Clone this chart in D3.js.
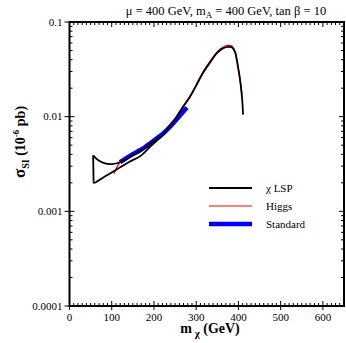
<!DOCTYPE html>
<html>
<head>
<meta charset="utf-8">
<script src="https://cdn.jsdelivr.net/npm/d3@7"></script>
<style>
  body { margin: 0; background: #fff; }
  svg text { font-family: "Liberation Serif", "DejaVu Serif", serif; fill: #000; }
</style>
</head>
<body>
<div id="chart"></div>
<script>
// data (m_chi in GeV, sigma_SI in 1e-6 pb)
var lspUpper = [[219, 0.0063], [195, 0.0053], [170, 0.0044], [145, 0.0038], [119.6, 0.0033],
                [100, 0.00316], [84, 0.00321], [67.5, 0.00348], [56, 0.0039]];
var lspLower = [[57, 0.00205], [58, 0.00200], [80, 0.00228], [108, 0.0027], [140, 0.0033],
                [170, 0.0039], [195, 0.0050], [221, 0.0064]];
var lspMain = [[233, 0.0076], [250, 0.0094], [269, 0.0127], [285, 0.0161], [300, 0.0213],
               [316, 0.0289], [333, 0.0375], [349, 0.0469], [361, 0.052], [375, 0.0547],
               [385, 0.0538], [392, 0.048], [396, 0.040], [399, 0.0333], [403, 0.026],
               [406, 0.0205], [409, 0.015], [411, 0.0105]];
var higgs = [[105, 0.0025], [112, 0.0029], [119.6, 0.0033], [145, 0.0038], [170, 0.0044],
             [195, 0.0053], [221, 0.0064], [233, 0.0077], [250, 0.0096], [269, 0.0129],
             [285, 0.0164], [300, 0.0217], [316, 0.0295], [333, 0.0385], [349, 0.048],
             [361, 0.0535], [375, 0.0565], [385, 0.0555], [392, 0.049], [396, 0.041],
             [399, 0.034], [403, 0.0265], [406, 0.021], [408, 0.017]];
var standard = [[119.6, 0.0033], [145, 0.0039], [170, 0.0045], [195, 0.0054], [221, 0.0066],
                [240, 0.0080], [260, 0.0101], [278, 0.0125]];
var xTicks = [0, 100, 200, 300, 400, 500, 600];
var yTicks = [0.0001, 0.001, 0.01, 0.1];
var yTickLabels = ["0.0001", "0.001", "0.01", "0.1"];
var legendItems = [
  { name: "\u03c7 LSP", color: "#000", width: 1.8 },
  { name: "Higgs", color: "#ff0000", width: 1.2 },
  { name: "Standard", color: "#0000ff", width: 4.5 }
];

var W = 346, H = 343;
var margin = { top: 22, right: 2, bottom: 37, left: 69.5 };
var pw = W - margin.left - margin.right, ph = H - margin.top - margin.bottom;

var svg = d3.select('#chart').append('svg')
    .attr('width', W).attr('height', H);
var g = svg.append('g')
    .attr('transform', 'translate(' + margin.left + ',' + margin.top + ')');

var x = d3.scaleLinear().domain([0, 650]).range([0, pw]);
var y = d3.scaleLog().domain([0.0001, 0.1]).range([ph, 0]);

var line = d3.line()
    .x(function(d) { return x(d[0]); })
    .y(function(d) { return y(d[1]); })
    .curve(d3.curveCatmullRom.alpha(0.5));

// ticks: minor on x every 10, minor on y 2..9 per decade
var xMinor = d3.range(0, 651, 10).filter(function(v) { return v % 100 !== 0; });
var yMinor = [];
[0.0001, 0.001, 0.01].forEach(function(dec) {
  for (var k = 2; k <= 9; k++) yMinor.push(dec * k);
});

var ticks = g.append('g').attr('stroke', '#000').attr('stroke-width', 1);
// bottom
ticks.selectAll('.xb').data(xTicks).enter().append('line')
    .attr('x1', function(d) { return x(d); }).attr('x2', function(d) { return x(d); })
    .attr('y1', ph + 4).attr('y2', ph - 5);
ticks.selectAll('.xbm').data(xMinor).enter().append('line')
    .attr('x1', function(d) { return x(d); }).attr('x2', function(d) { return x(d); })
    .attr('y1', ph).attr('y2', ph - 3);
// top
ticks.selectAll('.xt').data(xTicks).enter().append('line')
    .attr('x1', function(d) { return x(d); }).attr('x2', function(d) { return x(d); })
    .attr('y1', 0).attr('y2', 5);
ticks.selectAll('.xtm').data(xMinor).enter().append('line')
    .attr('x1', function(d) { return x(d); }).attr('x2', function(d) { return x(d); })
    .attr('y1', 0).attr('y2', 3);
// left
ticks.selectAll('.yl').data(yTicks).enter().append('line')
    .attr('y1', function(d) { return y(d); }).attr('y2', function(d) { return y(d); })
    .attr('x1', -5).attr('x2', 5);
ticks.selectAll('.ylm').data(yMinor).enter().append('line')
    .attr('y1', function(d) { return y(d); }).attr('y2', function(d) { return y(d); })
    .attr('x1', 0).attr('x2', 3);
// right
ticks.selectAll('.yr').data(yTicks).enter().append('line')
    .attr('y1', function(d) { return y(d); }).attr('y2', function(d) { return y(d); })
    .attr('x1', pw - 5).attr('x2', pw);
ticks.selectAll('.yrm').data(yMinor).enter().append('line')
    .attr('y1', function(d) { return y(d); }).attr('y2', function(d) { return y(d); })
    .attr('x1', pw - 3).attr('x2', pw);

// tick labels
g.selectAll('.xl').data(xTicks).enter().append('text')
    .attr('x', function(d) { return x(d); }).attr('y', ph + 15)
    .attr('text-anchor', 'middle').style('font-size', '11px')
    .text(function(d) { return d; });
g.selectAll('.ylab').data(yTicks).enter().append('text')
    .attr('x', -7).attr('y', function(d) { return y(d) + 3.5; })
    .attr('text-anchor', 'end').style('font-size', '11px')
    .text(function(d, i) { return yTickLabels[i]; });

// curves: blue under red under black
g.append('path').datum(standard).attr('d', line)
    .attr('fill', 'none').attr('stroke', '#0000ff').attr('stroke-width', 4.5);
g.append('path').datum(higgs).attr('d', line)
    .attr('fill', 'none').attr('stroke', '#ff0000').attr('stroke-width', 1.3);
g.append('path').datum(lspUpper.slice(-1).concat(lspLower.slice(0, 1))).attr('d', d3.line()
      .x(function(d) { return x(d[0]); }).y(function(d) { return y(d[1]); }))
    .attr('fill', 'none').attr('stroke', '#000').attr('stroke-width', 1.8);
g.append('path').datum(lspUpper).attr('d', line)
    .attr('fill', 'none').attr('stroke', '#000').attr('stroke-width', 1.8);
g.append('path').datum(lspLower.concat(lspMain)).attr('d', line)
    .attr('fill', 'none').attr('stroke', '#000').attr('stroke-width', 1.8);

// frame
g.append('rect').attr('width', pw).attr('height', ph)
    .attr('fill', 'none').attr('stroke', '#000').attr('stroke-width', 2);

// legend
var leg = g.selectAll('.leg').data(legendItems).enter().append('g')
    .attr('transform', function(d, i) { return 'translate(' + (209 - margin.left) + ',' + (188 - margin.top + i * 18) + ')'; });
leg.append('line').attr('x1', 0).attr('x2', 43).attr('y1', 0).attr('y2', 0)
    .attr('stroke', function(d) { return d.color; })
    .attr('stroke-width', function(d) { return d.width; });
leg.append('text').attr('x', 57).attr('y', 4).style('font-size', '11px')
    .text(function(d) { return d.name; });

// title
var title = svg.append('text').attr('x', 226).attr('y', 15)
    .attr('text-anchor', 'middle').style('font-size', '12.5px');
title.append('tspan').text('\u03bc = 400 GeV, m');
title.append('tspan').attr('dy', 3).style('font-size', '9px').text('A');
title.append('tspan').attr('dy', -3).text(' = 400 GeV, tan \u03b2 = 10');

// x axis title
var xt = svg.append('text').attr('x', 210).attr('y', 333)
    .attr('text-anchor', 'middle').style('font-size', '14px').style('font-weight', 'bold');
xt.append('tspan').text('m');
xt.append('tspan').attr('dy', 4).style('font-size', '11px').text(' \u03c7');
xt.append('tspan').attr('dy', -4).text('  (GeV)');

// y axis title
var yt = svg.append('text')
    .attr('transform', 'translate(25,142) rotate(-90)')
    .attr('text-anchor', 'middle').style('font-size', '14px').style('font-weight', 'bold');
yt.append('tspan').style('font-size', '17px').text('\u03c3');
yt.append('tspan').attr('dy', 4).style('font-size', '10px').text('SI');
yt.append('tspan').attr('dy', -4).text(' (10');
yt.append('tspan').attr('dy', -6).style('font-size', '9px').text('-6');
yt.append('tspan').attr('dy', 6).text(' pb)');
</script>
</body>
</html>
